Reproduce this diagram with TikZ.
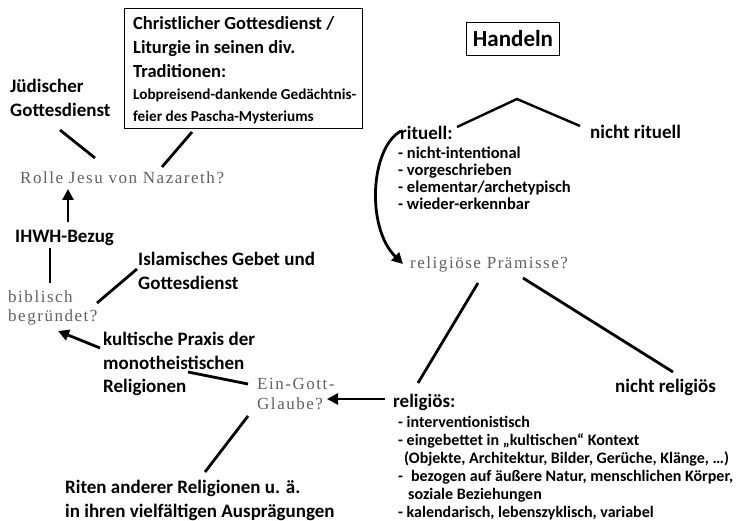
\documentclass[tikz,border=0pt]{standalone}
\usepackage{fontspec}
\setmainfont{Carlito}
\newfontfamily\grayserif{Liberation Serif}[LetterSpace=9]
\usetikzlibrary{arrows.meta}
\definecolor{faint}{gray}{0.38}
\tikzset{
 lbl/.style={anchor=north west, inner sep=0, font=\fontsize{19}{23.5}\selectfont\bfseries, align=left},
 box/.style={anchor=north west, inner sep=0, font=\fontsize{18.5}{24}\selectfont\bfseries, align=left},
 boxs/.style={anchor=north west, inner sep=0, font=\fontsize{15.2}{22}\selectfont\bfseries, align=left},
 lst/.style={anchor=north west, inner sep=0, font=\fontsize{16.5}{16.8}\selectfont\bfseries, align=left},
 lstb/.style={anchor=north west, inner sep=0, font=\fontsize{16}{18}\selectfont\bfseries, align=left},
 gq/.style={anchor=north west, inner sep=0, font=\fontsize{17}{19.5}\selectfont\grayserif, text=faint, align=left},
 con/.style={line width=2.8pt},
 arr/.style={line width=2.8pt, -{Triangle[length=11pt,width=11pt]}},
}
\begin{document}
\begin{tikzpicture}[x=1pt,y=-1pt]
\useasboundingbox[fill=white] (0,0) rectangle (742,521);
% left part
\node[draw, line width=1.4pt, anchor=north west, inner sep=0, minimum width=238, minimum height=120] (chr) at (124,8) {};
\node[box] (chrt) at (133,16) {Christlicher Gottesdienst /\\Liturgie in seinen div.\\Traditionen:};
\node[boxs] (chrs) at (133,89) {Lobpreisend-dankende Gedächtnis-\\feier des Pascha-Mysteriums};
\node[lbl] (jued) at (10,79) {Jüdischer\\Gottesdienst};
\node[gq] (rolle) at (20,172) {Rolle Jesu von Nazareth?};
\node[lbl] (ihwh) at (15,230) {IHWH-Bezug};
\node[gq, font=\fontsize{17}{19}\selectfont\grayserif] (bib) at (8,291) {biblisch\\begründet?};
\node[lbl, font=\fontsize{19}{24}\selectfont\bfseries] (isl) at (138,252) {Islamisches Gebet und\\Gottesdienst};
\node[lbl] (kult) at (103,332) {kultische Praxis der\\monotheistischen\\Religionen};
\node[gq, font=\fontsize{17}{20}\selectfont\grayserif] (ein) at (257,378) {Ein-Gott-\\Glaube?};
\node[lbl, font=\fontsize{19}{24}\selectfont\bfseries] (riten) at (65,480) {Riten anderer Religionen u. ä.\\in ihren vielfältigen Ausprägungen};
% right part
\node[draw, line width=1.4pt, minimum width=93, minimum height=33, inner sep=0, font=\fontsize{23}{26}\selectfont\bfseries] (hand) at (513,39) {Handeln};
\node[lbl] (rit) at (400,126) {rituell:};
\node[lst] (ritl) at (398,147) {- nicht-intentional\\- vorgeschrieben\\- elementar/archetypisch\\- wieder-erkennbar};
\node[lbl] (nrit) at (590,125) {nicht rituell};
\node[gq] (rp) at (410,257) {religiöse Prämisse?};
\node[lbl] (nrel) at (615,379) {nicht religiös};
\node[lbl] (rel) at (393,394) {religiös:};
\node[lstb] (rell) at (398,416) {- interventionistisch\\- eingebettet in „kultischen“ Kontext\\\hspace*{6pt}(Objekte, Architektur, Bilder, Gerüche, Klänge, …)\\-\hspace*{8pt}bezogen auf äußere Natur, menschlichen Körper,\\\hspace*{10pt}soziale Beziehungen\\- kalendarisch, lebenszyklisch, variabel};
% connector ends
\coordinate (j1) at (60,130); \coordinate (j2) at (95,158);
\coordinate (c1) at (192,132); \coordinate (c2) at (162,167);
\coordinate (i1) at (68,222); \coordinate (i2) at (68,189);
\coordinate (b1) at (50,248); \coordinate (b2) at (50,283);
\coordinate (s1) at (97,303); \coordinate (s2) at (137,269);
\coordinate (k1) at (100,348); \coordinate (k2) at (58,331);
\coordinate (m1) at (188,372); \coordinate (m2) at (248,384);
\coordinate (e1) at (248,416); \coordinate (e2) at (205,472);
\coordinate (r1) at (385,399); \coordinate (r2) at (327,399);
\coordinate (h1) at (457,127); \coordinate (hp) at (517,99); \coordinate (h2) at (580,126);
\coordinate (q1) at (401,131); \coordinate (q2) at (403,264);
\coordinate (p1) at (478,283); \coordinate (p2) at (418,383);
\coordinate (n1) at (523,278); \coordinate (n2) at (673,372);
% connectors
\draw[con] (j1) -- (j2);
\draw[con] (c1) -- (c2);
\draw[arr] (i1) -- (i2);
\draw[con] (b1) -- (b2);
\draw[con] (s1) -- (s2);
\draw[arr] (k1) -- (k2);
\draw[con] (m1) -- (m2);
\draw[con] (e1) -- (e2);
\draw[arr] (r1) -- (r2);
\draw[line width=2.4pt] (h1) -- (hp) -- (h2);
\draw[arr] (q1) .. controls (370,148) and (366,228) .. (q2);
\draw[con] (p1) -- (p2);
\draw[con] (n1) -- (n2);
\end{tikzpicture}
\end{document}
